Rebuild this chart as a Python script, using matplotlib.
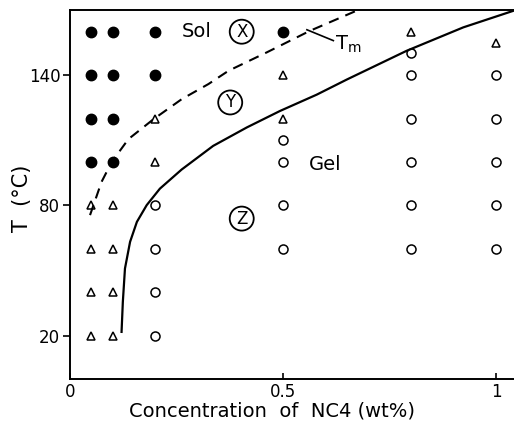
import numpy as np
import matplotlib.pyplot as plt

# sol (filled circles)
sol_x = [0.05, 0.05, 0.05, 0.05, 0.1, 0.1, 0.1, 0.1, 0.2, 0.2, 0.5]
sol_T = [160, 140, 120, 100, 160, 140, 120, 100, 160, 140, 160]

# triangles
tri_x = [0.05, 0.05, 0.05, 0.05, 0.1, 0.1, 0.1, 0.1, 0.2, 0.2, 0.5, 0.5, 0.8, 1.0]
tri_T = [80, 60, 40, 20, 80, 60, 40, 20, 120, 100, 140, 120, 160, 155]

# gel (open circles)
gel_x = [0.2, 0.2, 0.2, 0.2, 0.5, 0.5, 0.5, 0.5,
         0.8, 0.8, 0.8, 0.8, 0.8, 0.8, 1.0, 1.0, 1.0, 1.0, 1.0]
gel_T = [80, 60, 40, 20, 110, 100, 80, 60,
         150, 140, 120, 100, 80, 60, 140, 120, 100, 80, 60]

# gel boundary (solid)
gb_x = [0.121, 0.124, 0.129, 0.141, 0.157, 0.180, 0.211, 0.262, 0.336,
        0.415, 0.493, 0.579, 0.650, 0.790, 0.923, 1.04]
gb_T = [21.7, 35.5, 50.9, 63.2, 72.4, 80.1, 87.7, 96.5, 107.4,
        115.9, 123.5, 131.0, 138.0, 151.2, 162.0, 169.6]

# Tm (dashed)
tm_x = [0.047, 0.074, 0.098, 0.137, 0.196, 0.262, 0.325, 0.372, 0.462, 0.563, 0.681]
tm_T = [75.5, 90.8, 100.0, 110.5, 119.7, 128.9, 135.9, 142.0, 150.5, 160.4, 170.4]

xticks = [0, 0.5, 1]
xticklabels = ['0', '0.5', '1']
yticks = [20, 80, 140]

fig = plt.figure(figsize=(5.14, 4.21), dpi=100)
ax = fig.add_axes([70/514, 1-379/421, 1-70/514, 369/421])

ax.plot(sol_x, sol_T, 'o', color='black', markersize=7.5, linestyle='none')
ax.plot(tri_x, tri_T, '^', mfc='white', mec='black', mew=1.1, markersize=6, linestyle='none')
ax.plot(gel_x, gel_T, 'o', mfc='white', mec='black', mew=1.1, markersize=6.5, linestyle='none')

ax.plot(gb_x, gb_T, '-', color='black', lw=1.6, solid_joinstyle='round')
ax.plot(tm_x, tm_T, '--', color='black', lw=1.5, dashes=(5, 3.5))

# labels inside
ax.text(0.297, 160, 'Sol', fontsize=14, ha='center', va='center')
ax.text(0.599, 99, 'Gel', fontsize=14, ha='center', va='center')
circ = dict(boxstyle='circle,pad=0.18', fc='none', ec='black', lw=1.3)
ax.text(0.403, 160, 'X', fontsize=12, ha='center', va='center', bbox=circ)
ax.text(0.376, 127.4, 'Y', fontsize=12, ha='center', va='center', bbox=circ)
ax.text(0.403, 73.9, 'Z', fontsize=12, ha='center', va='center', bbox=circ)
ax.plot([0.556, 0.618], [160.9, 155.9], color='black', lw=1.2)
ax.text(0.622, 154.3, r'T$_{\rm m}$', fontsize=14, ha='left', va='center')

ax.set_xlim(0, 1.042)
ax.set_ylim(0, 170)
ax.spines['right'].set_visible(False)
for s in ['left', 'bottom', 'top']:
    ax.spines[s].set_linewidth(1.4)

ax.set_xticks(xticks)
ax.set_xticklabels(xticklabels)
ax.set_yticks(yticks)
ax.tick_params(axis='x', direction='in', length=4, width=1.2, labelsize=12, pad=3)
ax.tick_params(axis='y', direction='out', length=5, width=1.2, labelsize=12, pad=2)

fig.text(272/514, 1-411/421, 'Concentration  of  NC4 (wt%)', fontsize=14,
         ha='center', va='center')
fig.text(22/514, 1-198/421, 'T  (°C)', fontsize=15, rotation=90,
         ha='center', va='center')

fig.savefig('out.png', dpi=100)
